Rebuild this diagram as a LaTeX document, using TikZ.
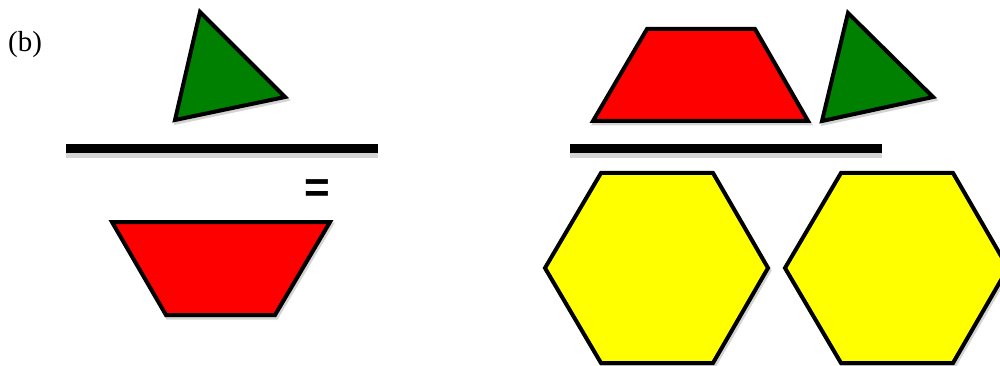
\documentclass[tikz,border=0pt]{standalone}
\usepackage{fontspec}
\setmainfont{Liberation Serif}
\newfontfamily\eqfont{Liberation Sans}
\definecolor{pgreen}{RGB}{0,128,0}
\definecolor{pred}{RGB}{255,0,0}
\definecolor{pyellow}{RGB}{255,255,0}
\definecolor{shade}{RGB}{212,212,212}
\begin{document}
\begin{tikzpicture}[x=1pt,y=-1pt,
  piece/.style={draw=black,line width=4pt,line join=miter},
  shadowpiece/.style={draw=shade,fill=shade,line width=4pt,line join=miter,shift={(1.5pt,-2.5pt)}},
  bar/.style={fill=black},
  barshadow/.style={fill=shade}]
\useasboundingbox (0,0) rectangle (1000,366);
% label
\node[font=\fontsize{29}{29}\selectfont,inner sep=0pt] (lbl) at (25,45) {(b)};
% ---------- left side ----------
\draw[shadowpiece] (200,12) -- (285,97) -- (175,120) -- cycle;
\draw[piece,fill=pgreen] (200,12) -- (285,97) -- (175,120) -- cycle;
\fill[barshadow] (66,147) rectangle (378,158);
\fill[bar] (66,144) rectangle (378,153);
\node[font=\eqfont\bfseries\fontsize{44}{44}\selectfont,inner sep=0pt] (eq) at (317,191) {=};
\draw[shadowpiece] (112,222) -- (330,222) -- (275,315) -- (166,315) -- cycle;
\draw[piece,fill=pred] (112,222) -- (330,222) -- (275,315) -- (166,315) -- cycle;
% ---------- right side ----------
\draw[shadowpiece] (647,29) -- (755,29) -- (808,121) -- (593,121) -- cycle;
\draw[piece,fill=pred] (647,29) -- (755,29) -- (808,121) -- (593,121) -- cycle;
\draw[shadowpiece] (848,13) -- (933,97) -- (822,121) -- cycle;
\draw[piece,fill=pgreen] (848,13) -- (933,97) -- (822,121) -- cycle;
\fill[barshadow] (570,147) rectangle (882,158);
\fill[bar] (570,144) rectangle (882,153);
\draw[shadowpiece] (601,173) -- (713,173) -- (768,268) -- (713,363) -- (601,363) -- (545,268) -- cycle;
\draw[piece,fill=pyellow] (601,173) -- (713,173) -- (768,268) -- (713,363) -- (601,363) -- (545,268) -- cycle;
\draw[shadowpiece] (841,173) -- (953,173) -- (1008,268) -- (953,363) -- (841,363) -- (785,268) -- cycle;
\draw[piece,fill=pyellow] (841,173) -- (953,173) -- (1008,268) -- (953,363) -- (841,363) -- (785,268) -- cycle;
\end{tikzpicture}
\end{document}
